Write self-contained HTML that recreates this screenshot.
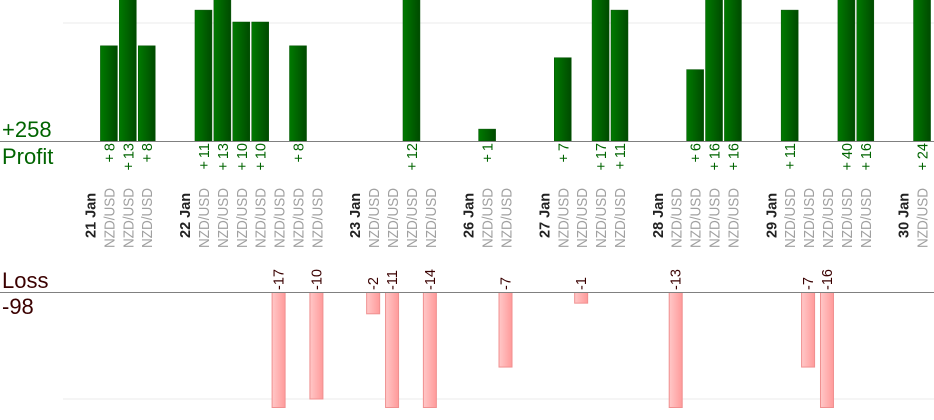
<!DOCTYPE html>
<html><head><meta charset="utf-8"><style>
html,body{margin:0;padding:0;background:#fff;}
svg{display:block;font-family:"Liberation Sans",sans-serif;}
</style></head><body>
<svg width="934" height="420" viewBox="0 0 934 420" xmlns="http://www.w3.org/2000/svg">
<defs>
<linearGradient id="g" x1="0" x2="1" y1="0" y2="0"><stop offset="0" stop-color="#007a00"/><stop offset="1" stop-color="#004a00"/></linearGradient>
<linearGradient id="r" x1="0" x2="1" y1="0" y2="0"><stop offset="0" stop-color="#ffc8c8"/><stop offset="1" stop-color="#ff9a9a"/></linearGradient>
</defs>
<line x1="63" y1="23" x2="934" y2="23" stroke="#ebebeb"/>
<line x1="63" y1="399" x2="934" y2="399" stroke="#ebebeb"/>
<g id="bars"></g>
<line x1="0" y1="141.5" x2="934" y2="141.5" stroke="#808080"/>
<line x1="0" y1="292.5" x2="934" y2="292.5" stroke="#808080"/>
<text x="2" y="137" font-size="22" fill="#006400">+258</text>
<text x="2" y="164" font-size="22" fill="#006400">Profit</text>
<text x="2" y="288" font-size="22" fill="#3a0000">Loss</text>
<text x="2" y="314" font-size="22" fill="#3a0000">-98</text>
<g id="txt"></g>
</svg>
<script>
var cols={1:8,2:13,3:8,6:11,7:13,8:10,9:10,10:-17,11:8,12:-10,15:-2,16:-11,17:12,18:-14,21:1,22:-7,25:7,26:-1,27:17,28:11,31:-13,32:6,33:16,34:16,37:11,38:-7,39:-16,40:40,41:16,44:24};
var dates={0:"21 Jan",5:"22 Jan",14:"23 Jan",20:"26 Jan",24:"27 Jan",30:"28 Jan",36:"29 Jan",43:"30 Jan"};
var b="",t="";
function cx(i){return 90+i*18.91;}
for(var i=0;i<=44;i++){
 var x=cx(i);
 if(dates[i]) t+='<text transform="translate('+(x+5.5)+',238) rotate(-90)" font-size="14.5" font-weight="bold" fill="#222">'+dates[i]+'</text>';
 if(cols[i]!==undefined){
  var v=cols[i];
  t+='<text transform="translate('+(x+5.5)+',248) rotate(-90)" font-size="14.5" fill="#a0a0a0" textLength="60" lengthAdjust="spacingAndGlyphs">NZD/USD</text>';
  if(v>0){
   var h=Math.min(v*11.9,160);
   b+='<rect x="'+(x-8.5)+'" y="'+(141-h)+'" width="17" height="'+h+'" fill="url(#g)" stroke="#005000" stroke-width="0.5"/>';
   t+='<text transform="translate('+(x+5.5)+',143) rotate(-90)" font-size="14.5" fill="#006400" text-anchor="end">+\u2009'+v+'</text>';
  } else {
   var h2=Math.min(-v*10.65,115);
   b+='<rect x="'+(x-7)+'" y="292.5" width="13" height="'+h2+'" fill="url(#r)" stroke="#f09090" stroke-width="1"/>';
   t+='<text transform="translate('+(x+4.5)+',290) rotate(-90)" font-size="14.5" fill="#3a0000">'+v+'</text>';
  }
 }
}
document.getElementById("bars").innerHTML=b;
document.getElementById("txt").innerHTML=t;
</script>
</body></html>
